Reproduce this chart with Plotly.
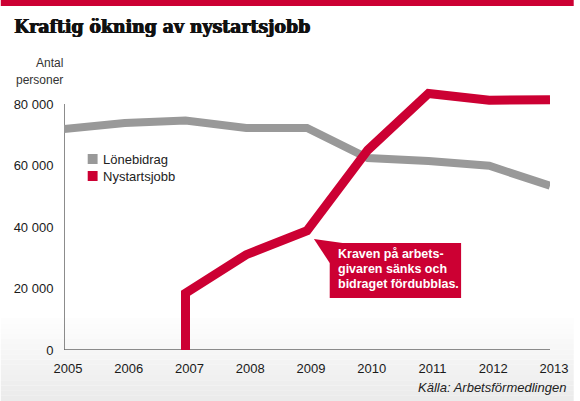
import plotly.graph_objects as go

# data
years = [2005, 2006, 2007, 2008, 2009, 2010, 2011, 2012, 2013]
lonebidrag = [71900, 73800, 74600, 72200, 72200, 62400, 61500, 59900, 53400]
nystart_years = [2007, 2007, 2008, 2009, 2010, 2011, 2012, 2013]
nystartsjobb = [0, 18500, 31000, 38800, 65000, 83400, 81200, 81400]
y_ticks = [0, 20000, 40000, 60000, 80000]
y_ticktext = ["0", "20 000", "40 000", "60 000", "80 000"]
series_names = ["Lönebidrag", "Nystartsjobb"]
callout_lines = ["Kraven på arbets-", "givaren sänks och", "bidraget fördubblas."]

RED = "#cc0033"
GREY = "#999999"
FONT = "Liberation Sans, Arial, sans-serif"

W, H = 580, 401
L, R, T, B = 64, 24, 79, 51
PW, PH = W - L - R, H - T - B


def px_x(p):
    return (p - L) / PW


def px_y(p):
    return (H - B - p) / PH


fig = go.Figure()

fig.add_trace(go.Scatter(x=years, y=lonebidrag, mode="lines", name=series_names[0],
                         line=dict(color=GREY, width=8), showlegend=False,
                         hoverinfo="skip"))
fig.add_trace(go.Scatter(x=nystart_years, y=nystartsjobb, mode="lines",
                         name=series_names[1],
                         line=dict(color=RED, width=9), showlegend=False,
                         hoverinfo="skip"))

shapes = []
# soft grey gradient at the bottom of the graphic
n_bands = 16
for i in range(n_bands):
    top = 318 + i * (H - 318) / n_bands
    bot = 318 + (i + 1) * (H - 318) / n_bands
    g = int(255 - (i + 1) * 20 / n_bands)
    shapes.append(dict(type="rect", xref="paper", yref="paper", layer="below",
                       x0=px_x(0), x1=px_x(W), y0=px_y(bot), y1=px_y(top),
                       line=dict(width=0), fillcolor=f"rgb({g},{g},{g})"))
# red bar on top
shapes.append(dict(type="rect", xref="paper", yref="paper",
                   x0=px_x(0), x1=px_x(W), y0=px_y(6), y1=px_y(0),
                   line=dict(width=0), fillcolor=RED))
# axis lines
shapes.append(dict(type="line", xref="x", yref="y", layer="below",
                   x0=2005, x1=2013.02, y0=0, y1=0,
                   line=dict(color="#666666", width=1.5)))
shapes.append(dict(type="line", xref="x", yref="y", layer="below",
                   x0=2005, x1=2005, y0=0, y1=80000,
                   line=dict(color="#666666", width=1.5)))
# legend swatches
for i, col in enumerate([GREY, RED]):
    cy = 159 + i * 17
    shapes.append(dict(type="rect", xref="paper", yref="paper",
                       x0=px_x(88), x1=px_x(98), y0=px_y(cy + 5), y1=px_y(cy - 5),
                       line=dict(width=0), fillcolor=col))
# callout box and pointer
shapes.append(dict(type="rect", xref="paper", yref="paper",
                   x0=px_x(333), x1=px_x(466), y0=px_y(298), y1=px_y(243),
                   line=dict(width=0), fillcolor=RED))
shapes.append(dict(type="path", xref="paper", yref="paper",
                   path=f"M {px_x(317)},{px_y(239)} L {px_x(346)},{px_y(243)} "
                        f"L {px_x(333)},{px_y(263)} Z",
                   line=dict(width=0), fillcolor=RED))


def note(text, x, y, xanchor="left", size=13, color="#222222", family=FONT,
         **font_extra):
    return dict(text=text, xref="paper", yref="paper", x=px_x(x), y=px_y(y),
                xanchor=xanchor, yanchor="middle", align="left", showarrow=False,
                font=dict(family=family, size=size, color=color, **font_extra))


annotations = [
    note("<b>Kraftig ökning av nystartsjobb</b>", 11, 27, size=19.2, color="#111111",
         family="DejaVu Serif Condensed, DejaVu Serif, serif",
         shadow="0.8px 0 0 #111111, -0.3px 0 0 #111111"),
    note("Antal", 65, 63, xanchor="right", size=12, color="#333333"),
    note("personer", 65, 80, xanchor="right", size=12, color="#333333"),
    note("<i>Källa: Arbetsförmedlingen</i>", 574, 387, xanchor="right"),
]
for i, line in enumerate(callout_lines):
    annotations.append(note(f"<b>{line}</b>", 339, 254 + i * 15, size=12.5,
                            color="white"))
for i, name in enumerate(series_names):
    annotations.append(note(name, 101, 159 + i * 17))

fig.update_layout(
    width=W, height=H,
    margin=dict(l=L, r=R, t=T, b=B),
    paper_bgcolor="white", plot_bgcolor="rgba(0,0,0,0)",
    font=dict(family=FONT, size=13, color="#222222"),
    showlegend=False,
    shapes=shapes, annotations=annotations,
    xaxis=dict(range=[2005, 2013], showgrid=False, zeroline=False, showline=False,
               tickvals=years, ticks="outside", ticklen=6, ticklabelshift=4,
               tickcolor="rgba(0,0,0,0)", tickfont=dict(size=13, color="#1a1a1a")),
    yaxis=dict(range=[0, 271 / 61.5 * 20000], showgrid=False, zeroline=False,
               showline=False, tickvals=y_ticks, ticktext=y_ticktext,
               ticks="outside", ticklen=7, tickcolor="rgba(0,0,0,0)",
               tickfont=dict(size=13, color="#1a1a1a")),
)

fig.write_html("out.html", config={"displayModeBar": False},
               post_script="document.body.style.margin='0';")
